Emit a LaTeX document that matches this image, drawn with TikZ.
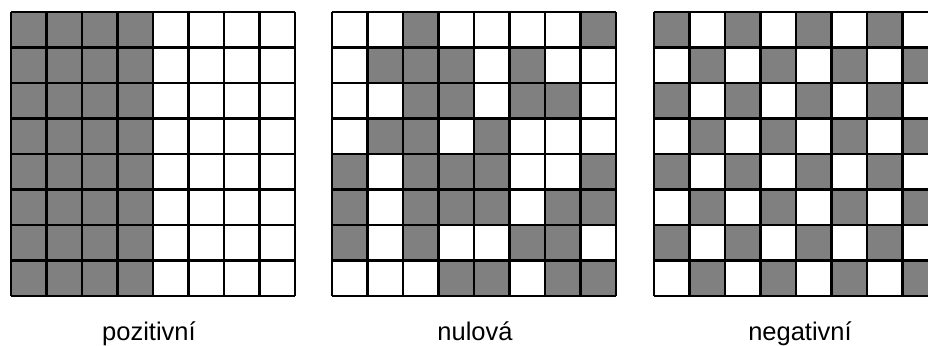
\documentclass[tikz,border=0pt]{standalone}
\usepackage{fontspec}
\setmainfont{Liberation Sans}
\definecolor{cellgray}{RGB}{128,128,128}
\tikzset{
  cellfill/.style={fill=cellgray},
  gridline/.style={draw=black,line width=2.8pt},
  lbl/.style={anchor=base,font=\fontsize{25.5}{30}\selectfont,inner sep=0pt}
}
\begin{document}
\begin{tikzpicture}[x=1pt,y=-1pt]
\useasboundingbox (0,0) rectangle (928,345);
\clip (0,0) rectangle (928,345);
\def\cs{35.5}
% grid 1: positive (left half gray)
\foreach \r in {0,...,7}{
  \foreach \c in {0,...,3}{
    \fill[cellfill] (11+\c*\cs,12+\r*\cs) rectangle ++(\cs,\cs);
  }
}
% grid 2: zero correlation
\foreach \r/\row in {0/{2,7},1/{1,2,3,5},2/{2,3,5,6},3/{1,2,4},4/{0,2,3,4,7},5/{0,2,3,4,6,7},6/{0,2,5,6},7/{3,4,6,7}}{
  \foreach \c in \row{
    \fill[cellfill] (332+\c*\cs,12+\r*\cs) rectangle ++(\cs,\cs);
  }
}
% grid 3: negative (checkerboard)
\foreach \r in {0,...,7}{
  \foreach \c in {0,...,7}{
    \pgfmathtruncatemacro{\p}{mod(\r+\c,2)}
    \ifnum\p=0
      \fill[cellfill] (654+\c*\cs,12+\r*\cs) rectangle ++(\cs,\cs);
    \fi
  }
}
% grid lines
\foreach \gx in {11,332,654}{
  \foreach \i in {0,...,8}{
    \draw[gridline] (\gx+\i*\cs,12) -- (\gx+\i*\cs,12+8*\cs);
    \draw[gridline] (\gx,12+\i*\cs) -- (\gx+8*\cs,12+\i*\cs);
  }
}
\node[lbl] (pos) at (149,340) {pozitivní};
\node[lbl] (zero) at (475,340) {nulová};
\node[lbl] (neg) at (800,340) {negativní};
\end{tikzpicture}
\end{document}
